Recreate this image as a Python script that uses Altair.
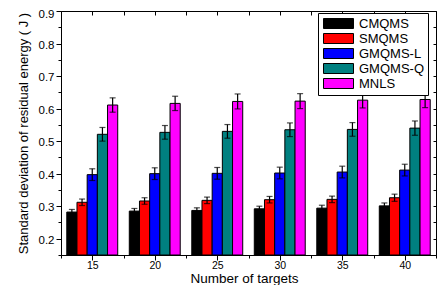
import altair as alt
import pandas as pd

targets = [15, 20, 25, 30, 35, 40]
methods = ["CMQMS", "SMQMS", "GMQMS-L", "GMQMS-Q", "MNLS"]
colors = ["#000000", "#ff0000", "#0000ff", "#008080", "#ff00ff"]

cmqms = [0.282, 0.285, 0.287, 0.292, 0.294, 0.301]
smqms = [0.312, 0.316, 0.318, 0.320, 0.321, 0.326]
gmqms_l = [0.397, 0.400, 0.401, 0.402, 0.405, 0.411]
gmqms_q = [0.521, 0.527, 0.530, 0.535, 0.536, 0.540]
mnls = [0.611, 0.616, 0.622, 0.623, 0.626, 0.628]

err_cmqms = [0.008, 0.008, 0.008, 0.008, 0.009, 0.009]
err_smqms = [0.010, 0.010, 0.010, 0.010, 0.010, 0.011]
err_gmqms_l = [0.018, 0.018, 0.018, 0.018, 0.018, 0.018]
err_gmqms_q = [0.021, 0.021, 0.021, 0.021, 0.021, 0.022]
err_mnls = [0.022, 0.022, 0.023, 0.023, 0.024, 0.025]

x_ticks = [12.5, 15, 17.5, 20, 22.5, 25, 27.5, 30, 32.5, 35, 37.5, 40, 42.5]
y_ticks = [0.15, 0.2, 0.25, 0.3, 0.35, 0.4, 0.45, 0.5, 0.55, 0.6, 0.65, 0.7, 0.75, 0.8, 0.85, 0.9]

series = [cmqms, smqms, gmqms_l, gmqms_q, mnls]
errors = [err_cmqms, err_smqms, err_gmqms_l, err_gmqms_q, err_mnls]
rows = []
for i, (m, vals, errs) in enumerate(zip(methods, series, errors)):
    for t, v, e in zip(targets, vals, errs):
        rows.append({"target": t, "method": m, "idx": i, "value": v, "err": e})
df = pd.DataFrame(rows)

FONT = "Liberation Sans"
xs = alt.Scale(domain=[12.5, 42.5], nice=False, zero=False)
ys = alt.Scale(domain=[0.15, 0.9], nice=False, zero=False)

base = alt.Chart(df).transform_calculate(
    xc="datum.target + (datum.idx - 2) * 0.815",
    x0="datum.xc - 0.4075",
    x1="datum.xc + 0.4075",
    lo="datum.value - datum.err",
    hi="datum.value + datum.err",
    base="0.15",
)

bottom_axis = alt.Axis(
    orient="bottom", values=x_ticks, grid=False,
    labelExpr="datum.value % 5 == 0 ? datum.label : ''",
    tickSize={"condition": {"test": "datum.value % 5 == 0", "value": 5}, "value": 3},
    labelFontSize=10.5, labelPadding=0, titleFontSize=13.5,
    titleX=183, titleY=27.5, titleBaseline="alphabetic", labelOverlap=False,
)
left_axis = alt.Axis(
    orient="left", values=y_ticks, grid=False,
    labelExpr="round(datum.value * 100) % 10 == 0 ? format(datum.value, '.1f') : ''",
    tickSize={"condition": {"test": "round(datum.value * 100) % 10 == 0", "value": 5}, "value": 3},
    labelFontSize=11.5, labelPadding=2,
    labelOffset={"condition": {"test": "datum.value > 0.89", "value": 3.5}, "value": 1.5},
    titleFontSize=13, titlePadding=8, labelOverlap=False,
)
top_axis = alt.Axis(orient="top", values=x_ticks, grid=False, labels=False, domain=False,
                    tickSize=4, offset=-4, title="")
right_axis = alt.Axis(orient="right", values=y_ticks, grid=False, labels=False, domain=False,
                      tickSize=3, offset=-3, title="")

bars = base.mark_bar(stroke="black", strokeWidth=1).encode(
    x=alt.X("x0:Q", scale=xs, axis=bottom_axis, title="Number of targets"),
    x2="x1:Q",
    y=alt.Y("value:Q", scale=ys, axis=left_axis, title="Standard deviation of residual energy ( J )"),
    y2="base:Q",
    color=alt.Color(
        "method:N", scale=alt.Scale(domain=methods, range=colors), title=None,
        legend=alt.Legend(
            orient="none", legendX=257, legendY=2,
            symbolType="M-1,-1H5V1H-1Z", symbolSize=100,
            symbolStrokeColor="black", symbolStrokeWidth=1, symbolOpacity=1,
            labelOffset=24, labelFontSize=13, labelFont=FONT, labelColor="black",
            fillColor="white", strokeColor="black", padding=4, rowPadding=0,
        ),
    ),
)

rules = base.mark_rule(color="black", strokeWidth=1.2).encode(
    x=alt.X("xc:Q", scale=xs, axis=top_axis),
    y=alt.Y("lo:Q", scale=ys, axis=right_axis),
    y2="hi:Q",
)

caps = base.transform_fold(["lo", "hi"], as_=["k", "yv"]).mark_tick(
    orient="horizontal", size=6, thickness=1.2, color="black"
).encode(
    x=alt.X("xc:Q", scale=xs, axis=None),
    y=alt.Y("yv:Q", scale=ys, axis=None),
)

chart = (
    alt.layer(bars, rules, caps)
    .resolve_axis(x="independent", y="independent")
    .properties(
        width=375, height=244,
        padding={"left": 53, "top": 3, "right": 1, "bottom": 30},
        autosize=alt.AutoSizeParams(type="none"),
        background="white",
    )
    .configure_view(stroke="black", strokeWidth=1)
    .configure_axis(
        labelFont=FONT, titleFont=FONT, labelColor="black", titleColor="black",
        domainColor="black", tickColor="black", titleFontWeight="normal",
        domainWidth=1, tickWidth=1,
    )
)

chart.save("out.html", embed_options={"renderer": "svg", "actions": False})
